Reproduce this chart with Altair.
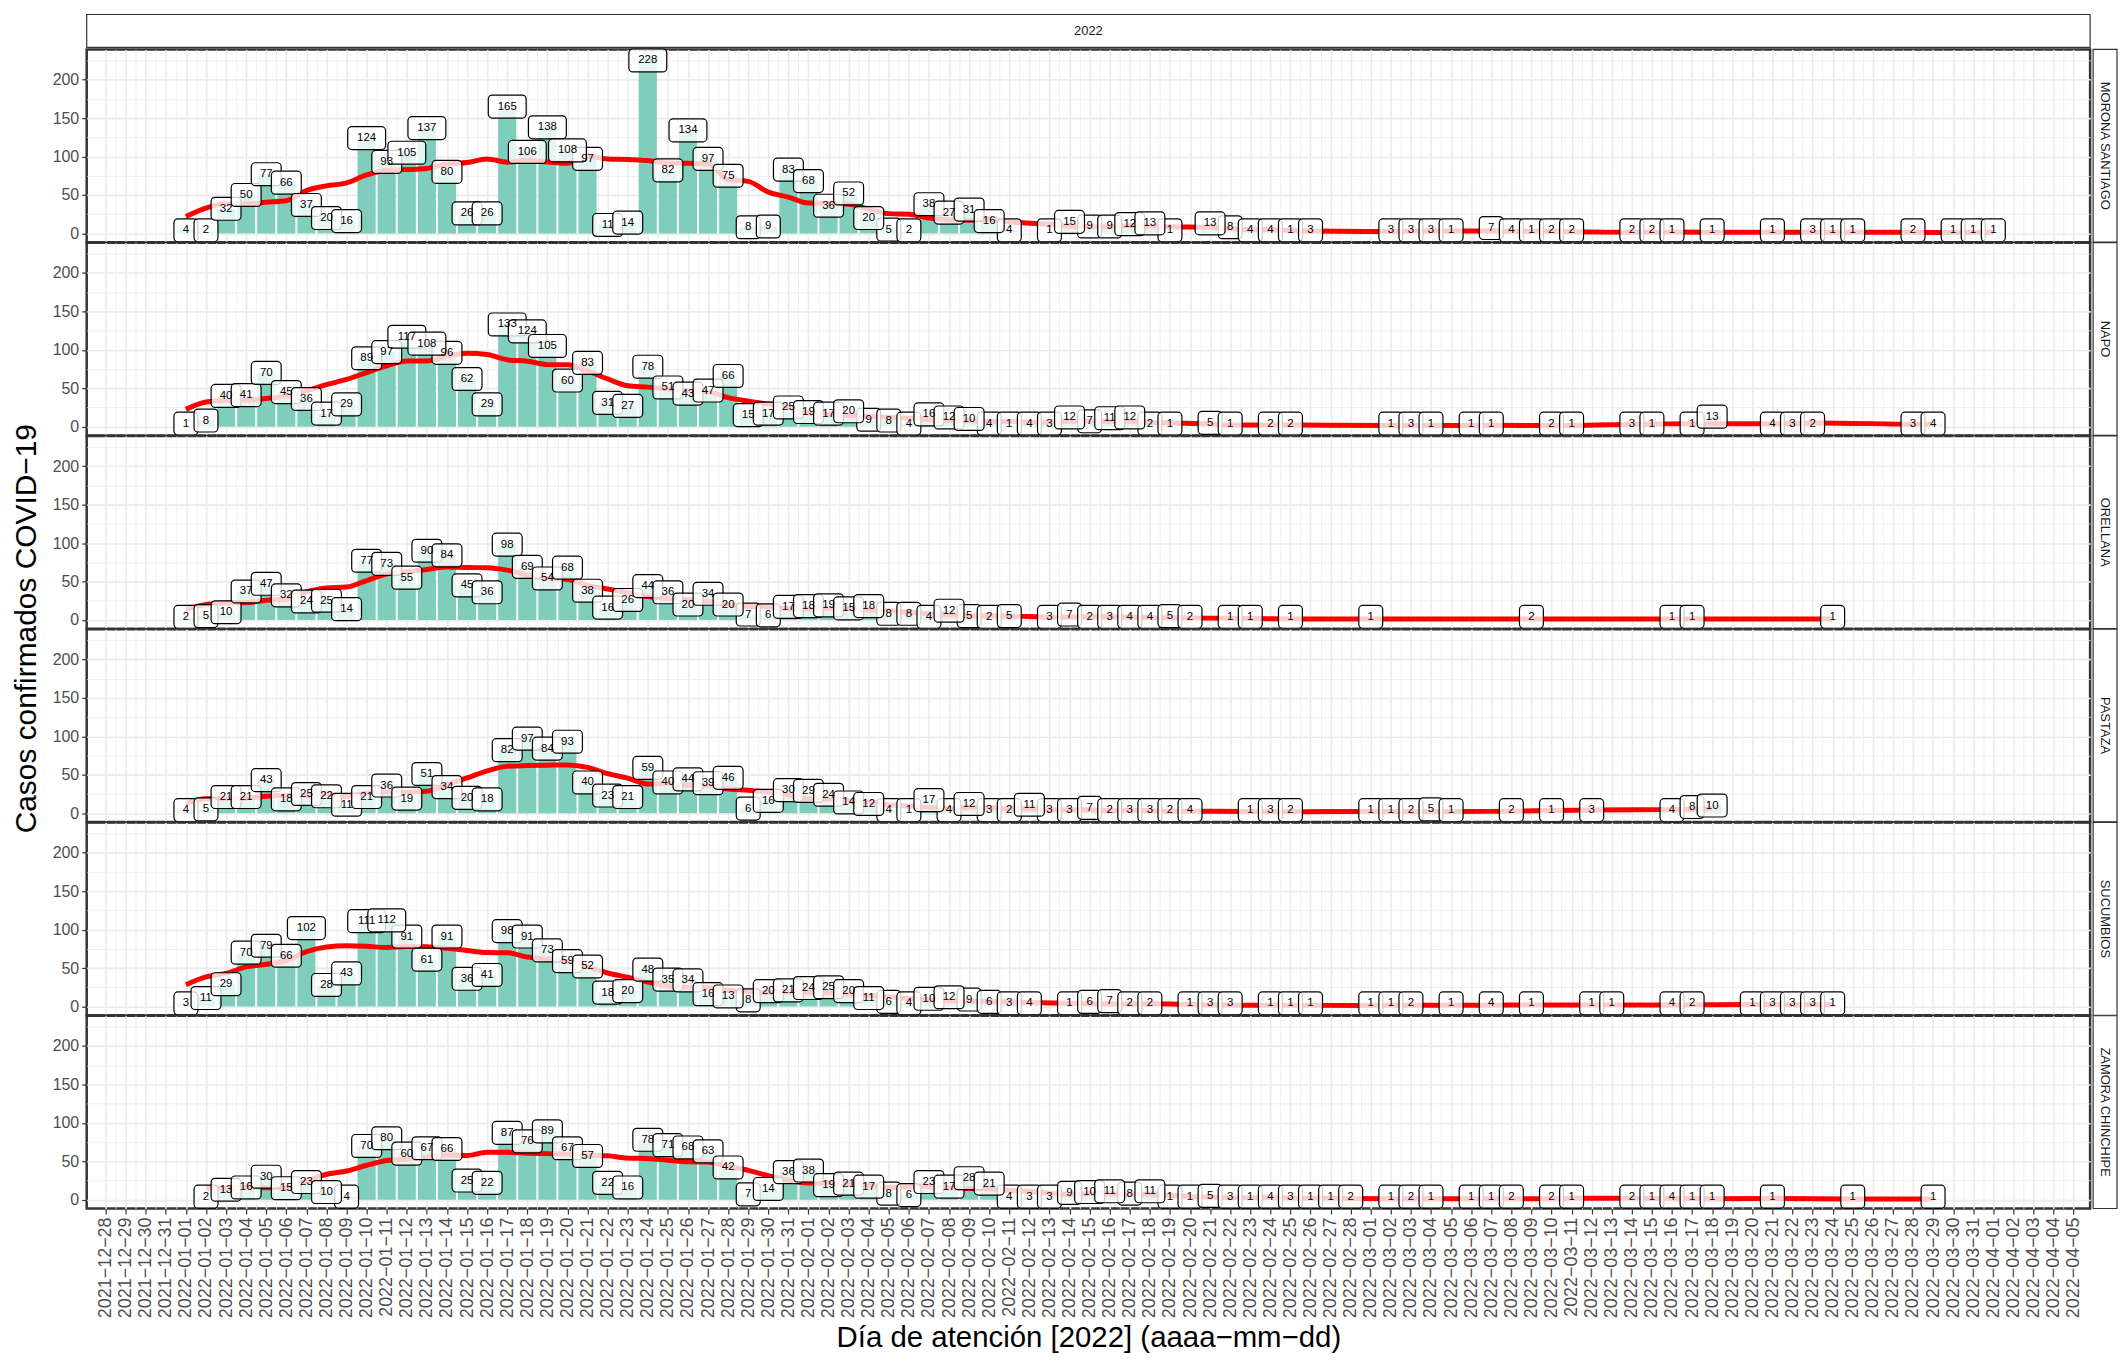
import altair as alt
import pandas as pd

YEAR = "2022"
BASE = "2021-12-28"

provincias = ["MORONA SANTIAGO", "NAPO", "ORELLANA", "PASTAZA", "SUCUMBIOS", "ZAMORA CHINCHIPE"]

morona_fechas = ["01-01","01-02","01-03","01-04","01-05","01-06","01-07","01-08","01-09","01-10",
                 "01-11","01-12","01-13","01-14","01-15","01-16","01-17","01-18","01-19","01-20",
                 "01-21","01-22","01-23","01-24","01-25","01-26","01-27","01-28","01-29","01-30","01-31",
                 "02-01","02-02","02-03","02-04","02-05","02-06","02-07","02-08","02-09","02-10","02-11",
                 "02-13","02-14","02-15","02-16","02-17","02-18","02-19","02-21","02-22","02-23","02-24",
                 "02-25","02-26","03-02","03-03","03-04","03-05","03-07","03-08","03-09","03-10","03-11",
                 "03-14","03-15","03-16","03-18","03-21","03-23","03-24","03-25","03-28","03-30","03-31","04-01"]
morona_casos = [4,2,32,50,77,66,37,20,16,124,
                93,105,137,80,26,26,165,106,138,108,
                97,11,14,228,82,134,97,75,8,9,83,
                68,36,52,20,5,2,38,27,31,16,4,
                1,15,9,9,12,13,1,13,8,4,4,
                1,3,3,3,3,1,7,4,1,2,2,
                2,2,1,1,1,3,1,1,2,1,1,1]

napo_fechas = ["01-01","01-02","01-03","01-04","01-05","01-06","01-07","01-08","01-09","01-10",
               "01-11","01-12","01-13","01-14","01-15","01-16","01-17","01-18","01-19","01-20",
               "01-21","01-22","01-23","01-24","01-25","01-26","01-27","01-28","01-29","01-30","01-31",
               "02-01","02-02","02-03","02-04","02-05","02-06","02-07","02-08","02-09","02-10",
               "02-11","02-12","02-13","02-14","02-15","02-16","02-17","02-18","02-19",
               "02-21","02-22","02-24","02-25","03-02","03-03","03-04","03-06","03-07","03-10",
               "03-11","03-14","03-15","03-17","03-18","03-21","03-22","03-23","03-28","03-29"]
napo_casos = [1,8,40,41,70,45,36,17,29,89,
              97,117,108,96,62,29,133,124,105,60,
              83,31,27,78,51,43,47,66,15,17,25,
              19,17,20,9,8,4,16,12,10,4,
              1,4,3,12,7,11,12,2,1,
              5,1,2,2,1,3,1,1,1,2,
              1,3,1,1,13,4,3,2,3,4]

orellana_fechas = ["01-01","01-02","01-03","01-04","01-05","01-06","01-07","01-08","01-09","01-10",
                   "01-11","01-12","01-13","01-14","01-15","01-16","01-17","01-18","01-19","01-20",
                   "01-21","01-22","01-23","01-24","01-25","01-26","01-27","01-28","01-29","01-30","01-31",
                   "02-01","02-02","02-03","02-04","02-05","02-06","02-07","02-08","02-09","02-10","02-11",
                   "02-13","02-14","02-15","02-16","02-17","02-18","02-19","02-20","02-22","02-23","02-25",
                   "03-01","03-09","03-16","03-17","03-24"]
orellana_casos = [2,5,10,37,47,32,24,25,14,77,
                  73,55,90,84,45,36,98,69,54,68,
                  38,16,26,44,36,20,34,20,7,6,17,
                  18,19,15,18,8,8,4,12,5,2,5,
                  3,7,2,3,4,4,5,2,1,1,1,
                  1,2,1,1,1]

pastaza_fechas = ["01-01","01-02","01-03","01-04","01-05","01-06","01-07","01-08","01-09","01-10",
                  "01-11","01-12","01-13","01-14","01-15","01-16","01-17","01-18","01-19","01-20",
                  "01-21","01-22","01-23","01-24","01-25","01-26","01-27","01-28","01-29","01-30","01-31",
                  "02-01","02-02","02-03","02-04","02-05","02-06","02-07","02-08","02-09","02-10",
                  "02-11","02-12","02-13","02-14","02-15","02-16","02-17","02-18","02-19","02-20",
                  "02-23","02-24","02-25","03-01","03-02","03-03","03-04","03-05","03-08","03-10",
                  "03-12","03-16","03-17","03-18"]
pastaza_casos = [4,5,21,21,43,18,25,22,11,21,
                 36,19,51,34,20,18,82,97,84,93,
                 40,23,21,59,40,44,39,46,6,16,30,
                 29,24,14,12,4,1,17,4,12,3,
                 2,11,3,3,7,2,3,3,2,4,
                 1,3,2,1,1,2,5,1,2,1,
                 3,4,8,10]

sucumbios_fechas = ["01-01","01-02","01-03","01-04","01-05","01-06","01-07","01-08","01-09","01-10",
                    "01-11","01-12","01-13","01-14","01-15","01-16","01-17","01-18","01-19","01-20",
                    "01-21","01-22","01-23","01-24","01-25","01-26","01-27","01-28","01-29","01-30","01-31",
                    "02-01","02-02","02-03","02-04","02-05","02-06","02-07","02-08","02-09","02-10",
                    "02-11","02-12","02-14","02-15","02-16","02-17","02-18","02-20","02-21","02-22",
                    "02-24","02-25","02-26","03-01","03-02","03-03","03-05","03-07","03-09","03-12",
                    "03-13","03-16","03-17","03-20","03-21","03-22","03-23","03-24"]
sucumbios_casos = [3,11,29,70,79,66,102,28,43,111,
                   112,91,61,91,36,41,98,91,73,59,
                   52,18,20,48,35,34,16,13,8,20,21,
                   24,25,20,11,6,4,10,12,9,6,
                   3,4,1,6,7,2,2,1,3,3,
                   1,1,1,1,1,2,1,4,1,1,
                   1,4,2,1,3,3,3,1]

zamora_fechas = ["01-02","01-03","01-04","01-05","01-06","01-07","01-08","01-09","01-10",
                 "01-11","01-12","01-13","01-14","01-15","01-16","01-17","01-18","01-19","01-20",
                 "01-21","01-22","01-23","01-24","01-25","01-26","01-27","01-28","01-29","01-30","01-31",
                 "02-01","02-02","02-03","02-04","02-05","02-06","02-07","02-08","02-09","02-10",
                 "02-11","02-12","02-13","02-14","02-15","02-16","02-17","02-18","02-19","02-20",
                 "02-21","02-22","02-23","02-24","02-25","02-26","02-27","02-28",
                 "03-02","03-03","03-04","03-06","03-07","03-08","03-10","03-11","03-14","03-15",
                 "03-16","03-17","03-18","03-21","03-25","03-29"]
zamora_casos = [2,13,16,30,15,23,10,4,70,
                80,60,67,66,25,22,87,76,89,67,
                57,22,16,78,71,68,63,42,7,14,36,
                38,19,21,17,8,6,23,17,28,21,
                4,3,3,9,10,11,8,11,1,1,
                5,3,1,4,3,1,1,2,
                1,2,1,1,1,2,2,1,2,1,
                4,1,1,1,1,1]

series = [
    ("MORONA SANTIAGO", morona_fechas, morona_casos),
    ("NAPO", napo_fechas, napo_casos),
    ("ORELLANA", orellana_fechas, orellana_casos),
    ("PASTAZA", pastaza_fechas, pastaza_casos),
    ("SUCUMBIOS", sucumbios_fechas, sucumbios_casos),
    ("ZAMORA CHINCHIPE", zamora_fechas, zamora_casos),
]

rows = []
for prov, fechas, casos in series:
    for f, c in zip(fechas, casos):
        rows.append({"provincia": prov, "fecha": f"{YEAR}-{f}", "casos": c})
df = pd.DataFrame(rows)
df["dia"] = (pd.to_datetime(df["fecha"]) - pd.Timestamp(BASE)).dt.days

W = 2011
H = 193.5
FONT = "Liberation Sans"

x_scale = alt.Scale(domain=[-0.94, 98.82], nice=False, zero=False)
y_scale = alt.Scale(domain=[-11.4, 239.4], nice=False, zero=False)

x_axis = alt.Axis(
    values=[i * 0.5 for i in range(0, 197)],
    labelExpr="datum.value % 1 === 0 ? utcFormat(utc(2021, 11, 28) + datum.value * 86400000, '%Y\u2212%m\u2212%d') : ''",
    labelAngle=270,
    labelOverlap=False,
    labelFontSize=18,
    labelColor="#4D4D4D",
    labelFont=FONT,
    labelPadding=3,
    tickColor={"condition": {"test": "datum.value % 1 === 0", "value": "#333333"}, "value": "transparent"},
    tickSize=5,
    tickWidth=1.2,
    gridColor="#EBEBEB",
    gridWidth={"condition": {"test": "datum.value % 1 === 0", "value": 1.6}, "value": 0.8},
    domain=False,
    title="D\u00eda de atenci\u00f3n [2022] (aaaa\u2212mm\u2212dd)",
    titleFontSize=29.5,
    titleFont=FONT,
    titleFontWeight="normal",
    titleColor="black",
    titlePadding=6,
)
y_axis = alt.Axis(
    values=[0, 25, 50, 75, 100, 125, 150, 175, 200, 225],
    labelExpr="datum.value % 50 === 0 ? datum.value : ''",
    labelFontSize=16,
    labelColor="#4D4D4D",
    labelFont=FONT,
    labelPadding=3,
    tickColor={"condition": {"test": "datum.value % 50 === 0", "value": "#333333"}, "value": "transparent"},
    tickSize=5,
    tickWidth=1.2,
    gridColor="#EBEBEB",
    gridWidth={"condition": {"test": "datum.value % 50 === 0", "value": 1.6}, "value": 0.8},
    domain=False,
    title=None,
)

X = lambda f: alt.X(f, type="quantitative", scale=x_scale, axis=x_axis)
Y = lambda f: alt.Y(f, type="quantitative", scale=y_scale, axis=y_axis)

base = alt.Chart(df)

bars = base.transform_calculate(
    x0="datum.dia - 0.45", x1="datum.dia + 0.45"
).mark_bar(color="#7FCDBB").encode(
    x=X("x0"), x2="x1:Q", y=Y("casos"), y2=alt.datum(0)
)

# 7-observation centred moving average per province
line = base.transform_window(
    media="mean(casos)", frame=[-3, 3], groupby=["provincia"], sort=[alt.SortField("dia")]
).mark_line(color="#FF0000", strokeWidth=5, interpolate="monotone").encode(
    x=X("dia"), y=Y("media")
)

lab = base.transform_calculate(ly="min(max(datum.casos, 4), 225)")
box_style = dict(height=23, cornerRadius=4, fill="white", fillOpacity=0.8,
                 stroke="black", strokeWidth=1.2)
box1 = lab.transform_filter("datum.casos < 10").mark_rect(width=24, **box_style).encode(x=X("dia"), y=Y("ly"))
box2 = lab.transform_filter("datum.casos >= 10 && datum.casos < 100").mark_rect(width=30, **box_style).encode(x=X("dia"), y=Y("ly"))
box3 = lab.transform_filter("datum.casos >= 100").mark_rect(width=38, **box_style).encode(x=X("dia"), y=Y("ly"))
txt = lab.mark_text(fontSize=11.5, font=FONT, color="black").encode(x=X("dia"), y=Y("ly"), text="casos:Q")

strip_data = base.transform_aggregate(n="count()", groupby=["provincia"])
strip_rect = strip_data.mark_rect(fill="white", stroke="#333333", strokeWidth=1.2).encode(
    x=alt.value(W + 3), x2=alt.value(W + 27), y=alt.value(0), y2=alt.value(H)
)
strip_text = strip_data.mark_text(angle=90, fontSize=13, font=FONT, color="#1A1A1A").encode(
    x=alt.value(W + 15), y=alt.value(H / 2), text="provincia:N"
)
top = strip_data.transform_filter("datum.provincia === 'MORONA SANTIAGO'")
top_rect = top.mark_rect(fill="white", stroke="#333333", strokeWidth=1.2).encode(
    x=alt.value(0), x2=alt.value(W), y=alt.value(-35), y2=alt.value(-2)
)
top_text = top.mark_text(text=YEAR, fontSize=13, font=FONT, color="#1A1A1A").encode(
    x=alt.value(W / 2), y=alt.value(-18.5)
)
ytitle = strip_data.transform_filter("datum.provincia === 'ORELLANA'").mark_text(
    text="Casos confirmados COVID\u221219", angle=270, fontSize=30, font=FONT, color="black"
).encode(x=alt.value(-60), y=alt.value(H))

layered = alt.layer(
    bars, line, box1, box2, box3, txt, strip_rect, strip_text, top_rect, top_text, ytitle
).properties(width=W, height=H)

chart = layered.facet(
    row=alt.Row("provincia:N", sort=provincias, header=alt.Header(labels=False, title=None)),
    spacing=0,
    bounds="flush",
).configure_view(
    stroke="#333333", strokeWidth=2.5
).properties(padding={"top": 2, "bottom": 0, "left": 2, "right": 1})

chart.save("out.html", embed_options={"renderer": "svg", "actions": False})
